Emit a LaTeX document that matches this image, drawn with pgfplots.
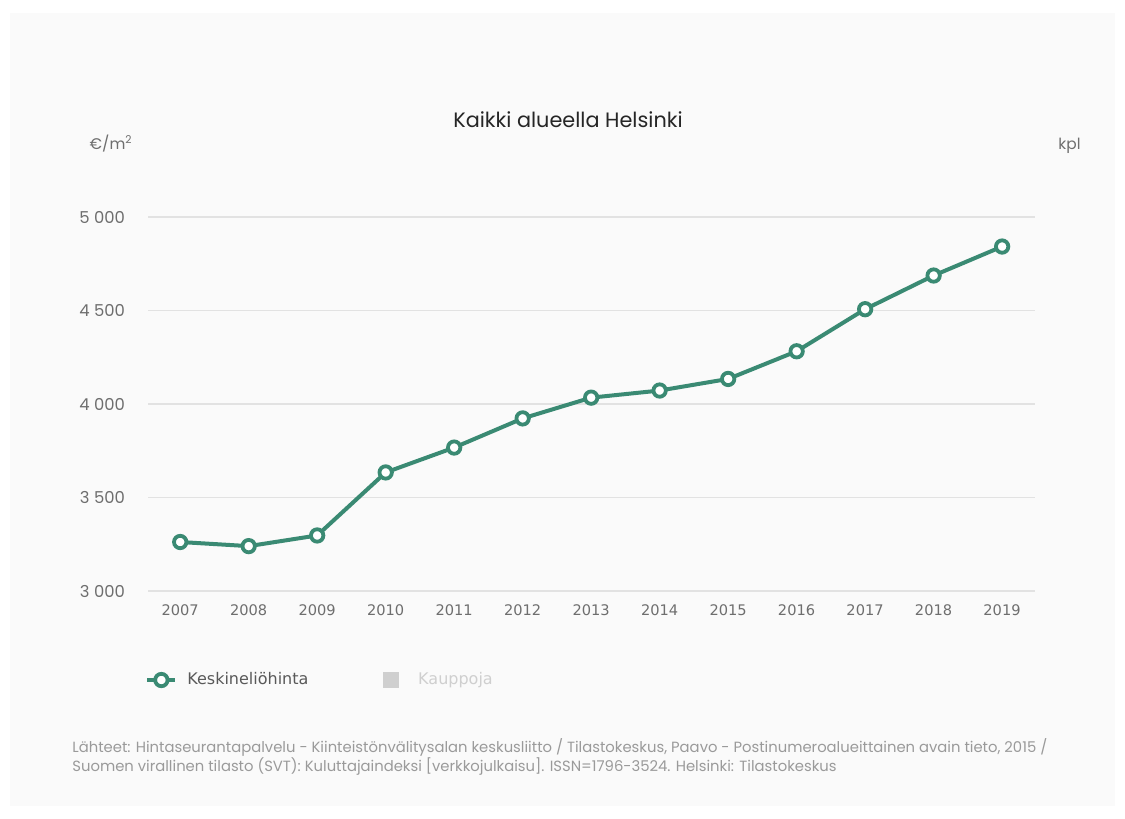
\documentclass[border=0pt]{standalone}
\usepackage{pgfplots}
\pgfplotsset{compat=1.18}
\usepackage{fontspec}
\setmainfont{Poppins}
\newfontfamily\dejavu{DejaVu Sans}
\definecolor{linec}{HTML}{3A8A73}
\definecolor{gridc}{HTML}{E2E2E2}
\definecolor{tickc}{HTML}{6E6E6E}
\definecolor{srcc}{HTML}{9A9A9A}
\definecolor{kaup}{HTML}{CFCFCF}
\definecolor{panel}{HTML}{FAFAFA}
\pgfplotsset{circleleg/.style={legend image code/.code={\draw[##1] (0pt,0pt) -- (14pt,0pt); \draw[##1] plot coordinates {(7pt,0pt)};}}}
\begin{document}
\begin{tikzpicture}
\begin{scope}[x=0.5pt,y=-0.5pt]
\fill[white] (0,0) rectangle (1125,819);
\fill[panel] (10,13) rectangle (1115,806);
\node[anchor=base, font=\fontsize{10.4pt}{12pt}\selectfont, text=black!85] at (568,127) {Kaikki alueella Helsinki};
\node[anchor=base east, inner sep=0pt, font=\fontsize{7.7pt}{9pt}\selectfont, text=tickc] at (133,149) {€/m\textsuperscript{2}};
\node[anchor=base east, inner sep=0pt, font=\fontsize{7.7pt}{9pt}\selectfont, text=tickc] at (1081,149) {kpl};
\node[anchor=base west, inner sep=0pt, align=left, font=\fontsize{7.4pt}{9.3pt}\selectfont, text=srcc] at (72,771) {Lähteet: Hintaseurantapalvelu - Kiinteistönvälitysalan keskusliitto / Tilastokeskus, Paavo - Postinumeroalueittainen avain tieto, 2015 /\\Suomen virallinen tilasto (SVT): Kuluttajaindeksi [verkkojulkaisu]. ISSN=1796-3524. Helsinki: Tilastokeskus};
\end{scope}
\begin{axis}[
  at={(74pt,-295.5pt)}, anchor=south west,
  scale only axis, width=443.5pt, height=187pt,
  xmin=2006.53, xmax=2019.48, ymin=3000, ymax=5000,
  axis line style={draw=none}, major tick length=0pt,
  ymajorgrids, grid style={gridc, line width=0.6pt},
  xtick={2007,...,2019},
  xticklabels={2007,2008,2009,2010,2011,2012,2013,2014,2015,2016,2017,2018,2019},
  ytick={3000,3500,4000,4500,5000},
  yticklabels={3 000,3 500,4 000,4 500,5 000},
  xticklabel style={font=\dejavu\fontsize{7.3pt}{9pt}\selectfont, text=tickc, yshift=-3.5pt},
  yticklabel style={font=\fontsize{8.2pt}{9pt}\selectfont, text=tickc, xshift=-8pt},
  clip=false,
  legend columns=2,
  legend style={at={(-0.0034,-0.238)}, anchor=west, draw=none, fill=none, inner sep=0pt,
    nodes={inner sep=0pt, font=\dejavu\fontsize{8pt}{9pt}\selectfont, text=black!65},
    /tikz/column 1/.append style={column sep=5pt},
    /tikz/column 2/.append style={column sep=37.5pt},
    /tikz/column 3/.append style={column sep=9.5pt}},
]
\addplot[color=linec, line width=2pt, mark=*, mark size=3.1pt,
  mark options={fill=white, draw=linec, line width=1.9pt}, circleleg]
coordinates {
(2007,3262) (2008,3240) (2009,3297) (2010,3634) (2011,3767) (2012,3923) (2013,4034)
(2014,4072) (2015,4134) (2016,4282) (2017,4507) (2018,4687) (2019,4842)
};
\addlegendentry{Keskineliöhinta}
\addlegendimage{legend image code/.code={\fill[kaup] (0pt,-3.75pt) rectangle (7.5pt,3.75pt);}}
\addlegendentry{\textcolor{kaup}{Kauppoja}}
\end{axis}
\end{tikzpicture}
\end{document}
